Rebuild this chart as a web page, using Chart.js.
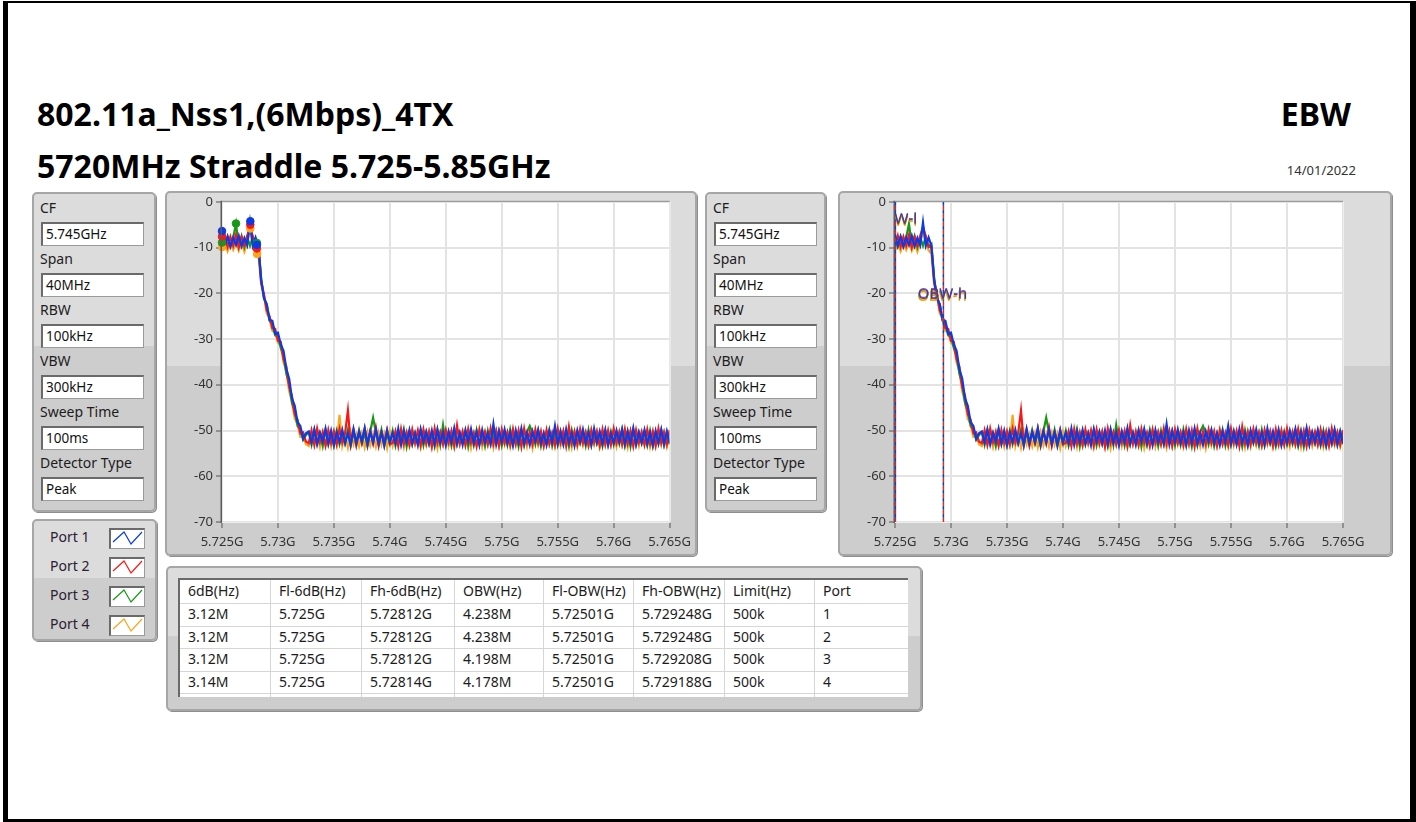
<!DOCTYPE html>
<html>
<head>
<meta charset="utf-8">
<script src="https://cdn.jsdelivr.net/npm/chart.js@4.4.1/dist/chart.umd.min.js"></script>
<style>
  body { margin: 0; background: #fff; font-family: "Noto Sans", sans-serif; }
  #page { position: relative; width: 1416px; height: 822px; overflow: hidden; background: #fff; }
  .bar { position: absolute; background: #000; }
  .title { position: absolute; font-weight: bold; color: #000; white-space: nowrap; line-height: 1; }
  .panel { position: absolute; box-sizing: border-box; border: 2px solid #a6a6a6; border-radius: 5px;
           background: linear-gradient(#dcdcdc 0, #dcdcdc 48%, #cdcdcd 48%, #cdcdcd 100%);
           box-shadow: 1px 1px 0 #8e8e8e; }
  .lbl { position: absolute; font-size: 14px; line-height: 1; color: #1c1c1c; white-space: nowrap; }
  .box { position: absolute; box-sizing: border-box; background: #fff; border: 1px solid #9a9a9a;
         border-top: 2px solid #6a6a6a; border-left: 2px solid #6a6a6a;
         font-size: 13.5px; line-height: 21px; padding-left: 3px; color: #111; }
  .chartbox { position: absolute; }
  .icon { position: absolute; box-sizing: border-box; width: 36px; height: 21px; background: #fff;
          border: 1px solid #999; border-top: 2px solid #6a6a6a; border-left: 2px solid #6a6a6a; }
  #grid { position: absolute; left: 178px; top: 578px; width: 730px; height: 119px; overflow: hidden;
          background: #fff; box-sizing: border-box; border-left: 2px solid #6a6a6a; border-top: 2px solid #6a6a6a; }
  .cell { position: absolute; box-sizing: border-box; border-right: 1px solid #d6d6d6; border-bottom: 1px solid #d6d6d6;
          font-size: 14px; color: #1c1c1c; padding-left: 8px; white-space: nowrap; }
</style>
</head>
<body>
<div id="page">
  <div class="bar" style="left:3px;top:1px;width:5px;height:821px"></div>
  <div class="bar" style="left:3px;top:1px;width:1413px;height:2px"></div>
  <div class="bar" style="left:1410px;top:1px;width:6px;height:821px"></div>
  <div class="bar" style="left:3px;top:819px;width:1413px;height:3px"></div>

  <div class="title" style="left:37px;top:98px;font-size:32px">802.11a_Nss1,(6Mbps)_4TX</div>
  <div class="title" style="left:37px;top:150px;font-size:32px">5720MHz Straddle 5.725-5.85GHz</div>
  <div class="title" style="right:65px;top:98px;font-size:32px">EBW</div>
  <div class="lbl" style="right:60px;top:164px;font-size:13px;color:#333">14/01/2022</div>

  <div class="panel" style="left:32px;top:192px;width:124px;height:320px"></div>
  <div class="panel" style="left:705px;top:192px;width:121px;height:320px"></div>
  <div class="panel" style="left:165px;top:191px;width:532px;height:365px"></div>
  <div class="panel" style="left:838px;top:191px;width:554px;height:365px"></div>
  <div class="panel" style="left:32px;top:519px;width:125px;height:122px"></div>
  <div class="panel" style="left:166px;top:566px;width:756px;height:145px"></div>

  <div class="chartbox" style="left:165px;top:191px"><canvas id="leftChart" width="532" height="365"></canvas></div>
  <div class="chartbox" style="left:838px;top:191px"><canvas id="rightChart" width="554" height="365"></canvas></div>

  <div id="settingsA"></div>
  <div id="settingsB"></div>
  <div id="legend"></div>
  <div id="grid"></div>
</div>

<script>
// sweep settings
const settingLabels = ['CF', 'Span', 'RBW', 'VBW', 'Sweep Time', 'Detector Type'];
const settingValues = ['5.745GHz', '40MHz', '100kHz', '300kHz', '100ms', 'Peak'];

const portNames = ['Port 1', 'Port 2', 'Port 3', 'Port 4'];
const portColors = ['#0a3be6', '#ff1414', '#169a16', '#ffa31a'];

// frequency bins (GHz)
const freqStart = 5.725;
const freqStep = 0.00025;

// trace values in dBm, one per bin (161 bins)
const port1Values = [
  -7.2,-9.6,-7.6,-9.8,-7.8,-9.4,-7.4,-9.7,-7.9,-9.5,-4.5,-9.6,-7.8,-9.6,
  -17.0,-21.0,-22.4,-25.8,-26.0,-28.8,-28.6,-31.2,-32.6,-36.6,-38.6,-43.0,-44.6,-48.2,-49.0,-51.8,-50.6,
  -50.2,-52.6,-49.8,-53.0,-50.5,-52.4,-49.6,-52.9,-50.1,-53.2,
  -50.4,-52.5,-49.9,-52.8,-50.6,-53.1,-49.7,-52.7,-50.3,-52.4,
  -49.5,-53.0,-50.2,-52.6,-49.8,-52.9,-50.4,-53.3,-50.0,-52.5,
  -50.5,-52.8,-49.6,-53.1,-50.1,-52.6,-49.9,-52.9,-50.6,-53.2,
  -49.7,-52.5,-50.3,-52.8,-50.0,-53.0,-49.8,-52.7,-50.4,-53.3,
  -50.2,-52.6,-49.5,-52.9,-50.5,-53.1,-50.0,-52.4,-49.7,-52.8,
  -50.3,-53.2,-49.9,-52.6,-50.6,-52.9,-48.6,-53.0,-50.1,-52.5,
  -49.8,-52.8,-50.4,-53.3,-50.0,-52.7,-49.6,-52.9,-50.5,-53.1,
  -50.2,-52.4,-49.9,-52.8,-50.6,-53.2,-50.1,-52.6,-49.0,-52.9,
  -50.3,-53.0,-49.7,-52.7,-50.5,-53.3,-50.0,-52.5,-49.8,-52.8,
  -50.4,-53.1,-49.6,-52.6,-50.2,-52.9,-49.9,-53.2,-50.6,-52.7,
  -50.0,-52.5,-49.7,-53.0,-50.3,-52.8,-49.5,-53.1,-50.4,-52.6,
  -49.9,-52.9,-50.5,-53.2,-50.1,-52.7,-49.8,-53.0,-50.2,-52.8
];
const port2Values = [
  -9.4,-7.4,-9.8,-7.6,-9.6,-7.2,-9.9,-7.7,-9.5,-7.5,-5.5,-7.6,-9.8,-9.9,
  -17.6,-20.2,-23.8,-25.0,-27.6,-27.8,-30.4,-30.6,-34.4,-36.0,-40.4,-42.4,-46.4,-47.6,-50.6,-50.4,-52.4,
  -52.8,-50.0,-53.1,-49.6,-52.5,-50.4,-53.3,-49.9,-52.7,-50.2,
  -53.0,-49.7,-52.6,-50.5,-45.6,-52.9,-49.8,-53.2,-50.3,-52.6,
  -49.6,-53.1,-50.1,-52.8,-49.4,-53.3,-50.4,-52.6,-49.9,-53.0,
  -52.7,-50.2,-53.4,-49.7,-52.9,-50.5,-53.1,-49.8,-52.6,-50.0,
  -53.2,-49.8,-52.8,-50.3,-53.5,-49.6,-52.7,-50.4,-53.0,-49.9,
  -52.6,-50.1,-53.3,-48.9,-52.8,-50.2,-53.1,-49.7,-52.7,-50.5,
  -53.4,-49.9,-52.6,-50.3,-53.0,-49.6,-52.9,-50.1,-53.3,-49.8,
  -52.7,-50.4,-53.1,-49.7,-52.8,-50.0,-53.5,-49.6,-52.6,-50.3,
  -53.0,-49.8,-52.7,-50.2,-53.3,-49.9,-52.9,-50.5,-53.1,-49.6,
  -52.6,-50.1,-53.4,-49.2,-52.8,-50.3,-53.0,-49.7,-52.7,-50.4,
  -53.2,-49.9,-52.6,-50.2,-53.3,-49.8,-52.9,-50.0,-53.1,-49.6,
  -52.7,-50.4,-53.0,-49.7,-52.8,-50.1,-53.4,-49.9,-52.6,-50.3,
  -53.1,-49.8,-52.9,-50.2,-53.3,-49.6,-52.7,-50.4,-53.0,-49.9
];
const port3Values = [
  -8.0,-9.8,-7.6,-9.6,-7.8,-4.8,-9.7,-7.5,-9.9,-7.8,-9.6,-7.7,-9.8,-9.2,
  -16.8,-21.2,-22.4,-26.0,-26.8,-29.2,-29.4,-32.0,-33.6,-37.6,-39.8,-44.0,-45.8,-49.0,-49.8,-52.0,-51.0,
  -50.4,-53.1,-50.0,-52.8,-50.7,-53.4,-49.9,-52.9,-50.5,-53.2,
  -50.1,-53.0,-50.6,-52.7,-49.8,-53.3,-50.3,-53.1,-50.0,-52.8,
  -50.6,-53.4,-50.2,-47.2,-50.4,-53.0,-49.9,-53.2,-50.7,-52.9,
  -50.1,-53.3,-50.5,-52.8,-49.8,-53.5,-50.3,-53.0,-50.6,-52.7,
  -50.0,-53.2,-50.4,-52.9,-50.7,-53.4,-49.9,-53.1,-48.8,-52.8,
  -50.5,-53.3,-50.2,-53.0,-50.6,-52.7,-50.0,-53.5,-50.3,-53.1,
  -49.9,-52.9,-50.5,-53.4,-50.1,-53.0,-50.7,-52.8,-50.2,-53.3,
  -50.4,-53.1,-49.8,-52.9,-50.6,-53.5,-50.0,-53.2,-50.3,-49.0,
  -50.5,-53.0,-50.1,-53.4,-50.7,-52.8,-49.9,-53.3,-50.4,-53.1,
  -50.2,-52.9,-50.6,-53.5,-50.0,-53.0,-50.3,-52.7,-50.5,-53.3,
  -49.9,-53.2,-50.4,-52.8,-50.7,-53.4,-50.1,-53.0,-50.3,-53.1,
  -50.6,-52.9,-50.0,-53.3,-50.2,-53.5,-49.9,-53.0,-50.5,-52.8,
  -50.3,-53.2,-50.1,-53.4,-50.6,-52.9,-50.0,-53.1,-50.4,-53.0
];
const port4Values = [
  -10.6,-9.0,-10.8,-9.2,-10.5,-8.8,-10.7,-9.1,-10.9,-9.0,-6.0,-9.2,-10.6,-11.4,
  -18.2,-20.6,-24.4,-25.6,-28.2,-28.6,-30.8,-31.4,-35.2,-37.0,-41.4,-43.6,-47.4,-48.6,-51.4,-51.2,-53.0,
  -53.4,-50.6,-53.0,-50.9,-53.6,-50.4,-53.2,-50.8,-53.5,-50.5,
  -53.1,-46.6,-53.3,-50.7,-53.7,-50.3,-53.0,-50.9,-53.4,-50.6,
  -53.6,-50.4,-53.2,-50.8,-53.5,-50.5,-53.1,-50.7,-53.8,-50.3,
  -53.3,-50.9,-53.0,-50.6,-53.6,-50.4,-53.4,-50.8,-53.1,-50.5,
  -53.7,-50.7,-53.2,-50.3,-53.5,-50.9,-53.9,-50.6,-53.0,-50.4,
  -53.4,-50.8,-53.6,-50.5,-53.1,-50.7,-53.3,-50.4,-53.8,-50.9,
  -53.2,-49.8,-53.5,-50.6,-53.0,-50.8,-53.7,-50.3,-53.4,-50.7,
  -53.1,-50.5,-53.6,-50.9,-53.3,-50.4,-53.0,-50.8,-53.5,-50.6,
  -53.8,-50.3,-53.2,-50.7,-53.4,-50.5,-53.1,-50.9,-53.6,-50.4,
  -53.3,-50.8,-53.0,-50.6,-53.7,-50.3,-53.5,-50.7,-53.2,-50.5,
  -53.4,-50.9,-53.1,-50.4,-53.6,-50.8,-53.3,-50.6,-53.0,-50.7,
  -53.5,-50.3,-53.2,-50.9,-53.7,-50.5,-53.1,-50.8,-53.4,-50.6,
  -53.0,-50.4,-53.6,-50.7,-53.3,-50.9,-53.2,-50.5,-53.5,-50.8
];
const portValues = [port1Values, port2Values, port3Values, port4Values];

// marker dots on the left plot (peak and -6dB points)
const peakX = [5.72753, 5.72753, 5.72625, 5.72753];
const peakY = [-4.25, -5.0, -4.75, -5.85];
const lowX = [5.725, 5.725, 5.725, 5.725];
const lowY = [-6.4, -7.6, -8.9, -9.9];
const highX = [5.72812, 5.72812, 5.72812, 5.72814];
const highY = [-9.4, -10.2, -9.0, -11.4];

// OBW edges on the right plot
const obwLow = [5.72501, 5.72501, 5.72501, 5.72501];
const obwHigh = [5.729248, 5.729248, 5.729208, 5.729188];

const xTickValues = [5.725, 5.73, 5.735, 5.74, 5.745, 5.75, 5.755, 5.76, 5.765];
const xTickLabels = ['5.725G', '5.73G', '5.735G', '5.74G', '5.745G', '5.75G', '5.755G', '5.76G', '5.765G'];
const yTickValues = [0, -10, -20, -30, -40, -50, -60, -70];
const yTickLabels = ['0', '-10', '-20', '-30', '-40', '-50', '-60', '-70'];

// result table
const tableHeader = ['6dB(Hz)', 'Fl-6dB(Hz)', 'Fh-6dB(Hz)', 'OBW(Hz)', 'Fl-OBW(Hz)', 'Fh-OBW(Hz)', 'Limit(Hz)', 'Port'];
const tableRows = [
  ['3.12M', '5.725G', '5.72812G', '4.238M', '5.72501G', '5.729248G', '500k', '1'],
  ['3.12M', '5.725G', '5.72812G', '4.238M', '5.72501G', '5.729248G', '500k', '2'],
  ['3.12M', '5.725G', '5.72812G', '4.198M', '5.72501G', '5.729208G', '500k', '3'],
  ['3.14M', '5.725G', '5.72814G', '4.178M', '5.72501G', '5.729188G', '500k', '4']
];

// ---- side panels ----
function buildSettings(id, left, boxWidth) {
  const host = document.getElementById(id);
  let html = '';
  settingLabels.forEach((l, i) => {
    const y = 201 + i * 51;
    html += `<div class="lbl" style="left:${left}px;top:${y}px">${l}</div>`;
    html += `<div class="box" style="left:${left + 1}px;top:${y + 21}px;width:${boxWidth}px;height:24px">${settingValues[i]}</div>`;
  });
  host.innerHTML = html;
}
buildSettings('settingsA', 40, 103);
buildSettings('settingsB', 713, 103);

(function buildLegend() {
  const host = document.getElementById('legend');
  let html = '';
  portNames.forEach((n, i) => {
    const y = 528 + i * 29;
    html += `<div class="lbl" style="left:50px;top:${y + 2}px;color:#2a2030">${n}</div>`;
    html += `<div class="icon" style="left:109px;top:${y}px"><svg width="34" height="19" style="position:absolute;left:0;top:0">
      <polyline points="2,12 13,2 20,14 31,2" fill="none" stroke="${portColors[i]}" stroke-width="1.2"/></svg></div>`;
  });
  host.innerHTML = html;
})();

(function buildTable() {
  const host = document.getElementById('grid');
  const colW = [91, 91, 93, 89, 90, 91, 90, 95];
  const rowH = [24, 23, 22, 23, 22, 20];
  let html = '';
  let y = 0;
  const rows = [tableHeader].concat(tableRows).concat([tableHeader.map(() => '')]);
  rows.forEach((r, ri) => {
    let x = 0;
    r.forEach((t, ci) => {
      html += `<div class="cell" style="left:${x}px;top:${y}px;width:${colW[ci]}px;height:${rowH[ri]}px;line-height:${rowH[ri] - 3}px">${t}</div>`;
      x += colW[ci];
    });
    y += rowH[ri];
  });
  host.innerHTML = html;
})();

// ---- charts ----
const plotFrame = {
  id: 'plotFrame',
  beforeDraw(chart) {
    const { ctx, chartArea: a } = chart;
    ctx.save();
    ctx.fillStyle = '#ffffff';
    ctx.fillRect(a.left, a.top, a.right - a.left, a.bottom - a.top);
    ctx.restore();
  },
  afterDraw(chart) {
    const { ctx, chartArea: a } = chart;
    ctx.save();
    ctx.lineWidth = 1;
    ctx.strokeStyle = '#eeeeee';
    ctx.beginPath();
    ctx.moveTo(a.right + 0.5, a.top); ctx.lineTo(a.right + 0.5, a.bottom + 0.5);
    ctx.lineTo(a.left, a.bottom + 0.5);
    ctx.stroke();
    ctx.strokeStyle = '#8a8a8a';
    ctx.beginPath();
    ctx.moveTo(a.right, a.top - 0.5); ctx.lineTo(a.left - 0.5, a.top - 0.5);
    ctx.stroke();
    ctx.strokeStyle = '#5c5c5c';
    ctx.lineWidth = 1.5;
    ctx.beginPath();
    ctx.moveTo(a.left - 0.75, a.top - 1); ctx.lineTo(a.left - 0.75, a.bottom + 1);
    ctx.stroke();
    ctx.restore();
  }
};

const obwMarkers = {
  id: 'obwMarkers',
  afterDatasetsDraw(chart) {
    const { ctx, chartArea: a, scales: { x, y } } = chart;
    const labelShift = [0, 1, 2, 3];
    ctx.save();
    ctx.beginPath();
    ctx.rect(a.left, a.top, a.right - a.left, a.bottom - a.top);
    ctx.clip();
    // dashed edge lines, ports 4..1 so port 1 ends up on top
    for (let p = portNames.length - 1; p >= 0; p--) {
      ctx.strokeStyle = portColors[p];
      ctx.globalAlpha = p < 2 ? 1 : 0.45;
      ctx.lineWidth = p < 2 ? 1.3 : 0.8;
      ctx.setLineDash([4, 4]);
      ctx.lineDashOffset = (p % 2) * 4;
      [obwLow[p], obwHigh[p]].forEach(f => {
        const px = Math.round(x.getPixelForValue(f)) + 0.5;
        ctx.beginPath();
        ctx.moveTo(px, a.top);
        ctx.lineTo(px, a.bottom);
        ctx.stroke();
      });
    }
    ctx.setLineDash([]);
    ctx.font = '15px "Noto Sans"';
    ctx.textAlign = 'center';
    ctx.textBaseline = 'middle';
    // labels: orange and red underneath, blue on top with a little transparency
    [3, 1, 2, 0].forEach(p => {
      ctx.globalAlpha = p === 0 ? 0.75 : (p === 2 ? 0.4 : 1);
      ctx.fillStyle = portColors[p];
      ctx.fillText('OBW-l', x.getPixelForValue(obwLow[p]), y.getPixelForValue(-3.6) + labelShift[p]);
      ctx.fillText('OBW-h', x.getPixelForValue(obwHigh[p]), y.getPixelForValue(-20.0) + labelShift[p]);
    });
    ctx.restore();
  }
};

function makeChart(id, rightPad, withDots, withObw) {
  const datasets = portNames.map((name, p) => ({
    label: name,
    data: portValues[p].map((v, i) => ({ x: freqStart + i * freqStep, y: v })),
    borderColor: portColors[p],
    borderWidth: 2.2,
    pointRadius: 0,
    tension: 0,
    order: 0
  }));
  if (withDots) {
    portNames.forEach((name, p) => {
      datasets.push({
        type: 'scatter',
        label: name + ' markers',
        data: [{ x: lowX[p], y: lowY[p] }, { x: peakX[p], y: peakY[p] }, { x: highX[p], y: highY[p] }],
        backgroundColor: portColors[p],
        borderColor: portColors[p],
        pointRadius: 3.8,
        showLine: false,
        clip: false,
        order: p - 10
      });
    });
  }
  const tickFont = { family: '"Noto Sans"', size: 13 };
  return new Chart(document.getElementById(id), {
    type: 'line',
    data: { datasets },
    plugins: withObw ? [plotFrame, obwMarkers] : [plotFrame],
    options: {
      responsive: false,
      animation: false,
      layout: { padding: { left: 0, top: 10, right: rightPad, bottom: 0 } },
      plugins: { legend: { display: false }, tooltip: { enabled: false } },
      scales: {
        x: {
          type: 'linear',
          min: 5.725,
          max: 5.765,
          afterFit(s) { s.height = 34; },
          afterBuildTicks(s) { s.ticks = xTickValues.map(v => ({ value: v })); },
          ticks: { callback: (v, i) => xTickLabels[i], color: '#333', font: tickFont, padding: 6, maxRotation: 0, autoSkip: false },
          grid: { color: '#e3e3e3', lineWidth: 2, tickColor: '#555', tickLength: 6, tickWidth: 1 },
          border: { display: false }
        },
        y: {
          min: -70,
          max: 0,
          afterFit(s) { s.width = 57; },
          afterBuildTicks(s) { s.ticks = yTickValues.map(v => ({ value: v })); },
          ticks: { callback: (v, i) => yTickLabels[i], color: '#333', font: tickFont, padding: 3 },
          grid: { color: '#e3e3e3', lineWidth: 2, tickColor: '#555', tickLength: 6, tickWidth: 1 },
          border: { display: false }
        }
      }
    }
  });
}

makeChart('leftChart', 27, true, false);
makeChart('rightChart', 49, false, true);
</script>
</body>
</html>
